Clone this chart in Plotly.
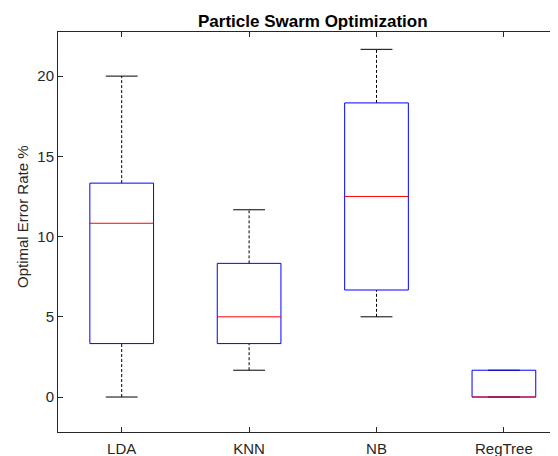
import plotly.graph_objects as go

# ---- data ----
categories = ["LDA", "KNN", "NB", "RegTree"]
mins = [0.0, 1.67, 5.0, 0.0]
q1 = [3.33, 3.33, 6.67, 0.0]
medians = [10.83, 5.0, 12.5, 0.0]
q3 = [13.33, 8.33, 18.33, 1.67]
maxs = [20.0, 11.67, 21.67, 1.67]
yticks = [0, 5, 10, 15, 20]

BOX_HALF = 0.25
CAP_HALF = 0.125
FONT = "Liberation Sans, Arial, sans-serif"
AX = "#262626"

# page body has an 8px margin: figure coordinates = screen coordinates - 8
OFF = 8
W, H = 558, 456
L, T, B = 58 - OFF, 32 - OFF, 432 - OFF
PX_PER_UNIT = 127.4
x_end = 0.5 + (W - L) / PX_PER_UNIT

positions = list(range(1, len(categories) + 1))

wx, wy, cx, cy, bx, by, mx, my = [], [], [], [], [], [], [], []
for p, lo, a, m, b, hi in zip(positions, mins, q1, medians, q3, maxs):
    wx += [p, p, None, p, p, None]
    wy += [b, hi, None, lo, a, None]
    cx += [p - CAP_HALF, p + CAP_HALF, None, p - CAP_HALF, p + CAP_HALF, None]
    cy += [hi, hi, None, lo, lo, None]
    bx += [p - BOX_HALF, p + BOX_HALF, p + BOX_HALF, p - BOX_HALF, p - BOX_HALF, None]
    by += [a, a, b, b, a, None]
    mx += [p - BOX_HALF, p + BOX_HALF, None]
    my += [m, m, None]

fig = go.Figure()
fig.add_trace(go.Scatter(x=wx, y=wy, mode="lines", line=dict(color="black", width=1, dash="3px,2px"),
                         hoverinfo="skip", showlegend=False))
fig.add_trace(go.Scatter(x=cx, y=cy, mode="lines", line=dict(color="black", width=1),
                         hoverinfo="skip", showlegend=False))
fig.add_trace(go.Scatter(x=bx, y=by, mode="lines", line=dict(color="#0000FF", width=1),
                         hoverinfo="skip", showlegend=False))
fig.add_trace(go.Scatter(x=mx, y=my, mode="lines", line=dict(color="#FF0000", width=1),
                         hoverinfo="skip", showlegend=False))

pw = W - L
ph = B - T
fig.update_layout(
    width=W, height=H,
    margin=dict(l=L, r=0, t=T, b=H - B, pad=0),
    paper_bgcolor="white", plot_bgcolor="white",
    font=dict(family=FONT, size=15, color=AX),
    title=dict(text="<b>Particle Swarm Optimization</b>",
               x=(312.8 - OFF - L) / pw, xref="paper", xanchor="center",
               y=1 - (21 - OFF) / H, yref="container", yanchor="middle",
               font=dict(family=FONT, size=17, color="black")),
    showlegend=False,
)
fig.update_xaxes(
    range=[0.5, x_end], tickvals=positions, ticktext=categories,
    showline=True, linecolor=AX, linewidth=1, mirror="ticks",
    ticks="inside", ticklen=5, tickcolor=AX, showgrid=False, zeroline=False,
    ticklabelstandoff=3,
    tickfont=dict(family=FONT, size=15, color=AX),
)
fig.update_yaxes(
    range=[-2.18, 22.75], tickvals=yticks,
    showline=True, linecolor=AX, linewidth=1,
    ticks="inside", ticklen=5, tickcolor=AX, showgrid=False, zeroline=False,
    tickfont=dict(family=FONT, size=15, color=AX),
)
fig.add_annotation(text="Optimal Error Rate %", textangle=-90, xref="paper", yref="paper",
                   x=(22 - OFF - L) / pw, y=(B - (217 - OFF)) / ph,
                   xanchor="center", yanchor="middle",
                   showarrow=False, font=dict(family=FONT, size=15, color=AX))

fig.write_html("out.html")
